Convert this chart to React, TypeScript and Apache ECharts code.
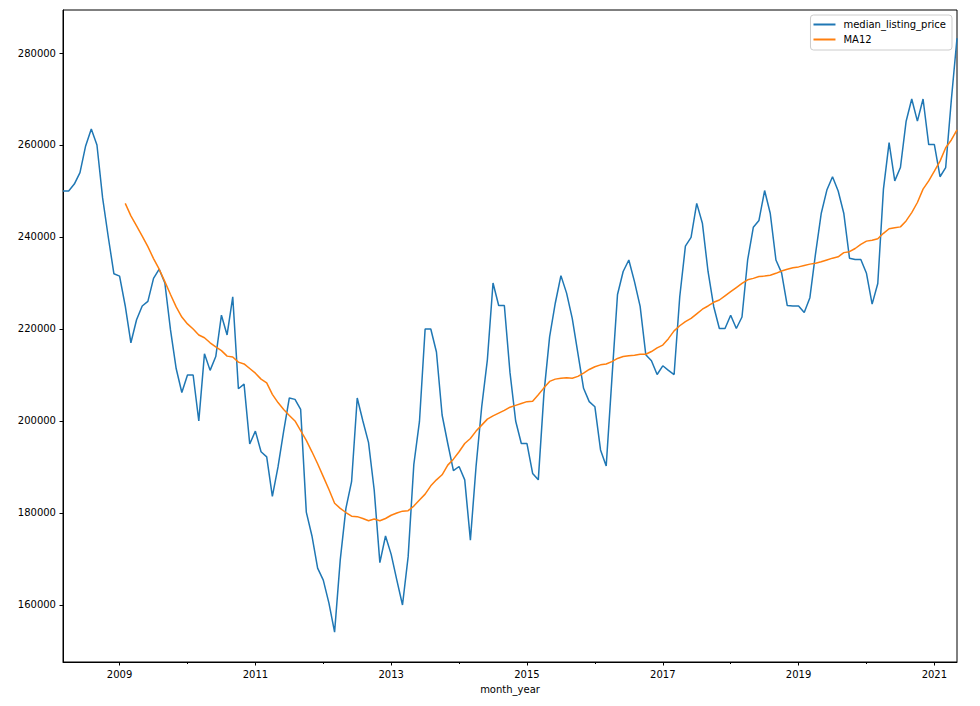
import React, { useEffect, useRef } from "react";
import * as echarts from "echarts";

const START_YEAR = 2008;
const START_MONTH = 3;
const N_MONTHS = 159;

const months: string[] = [];
for (let i = 0; i < N_MONTHS; i++) {
  const m = START_MONTH - 1 + i;
  const y = START_YEAR + Math.floor(m / 12);
  const mm = (m % 12) + 1;
  months.push(`${y}-${mm < 10 ? "0" + mm : mm}`);
}

const medianListingPrice: number[] = [
  250000, 250000, 251500, 254000, 259800, 263500, 260000, 248500, 240000, 232000,
  231500, 225000, 217000, 222000, 225000, 226000, 231000, 233000, 230000, 219800,
  211400, 206200, 210000, 210000, 200000, 214600, 211000, 214000, 223000, 218700,
  227000, 207000, 208000, 195000, 197800, 193300, 192200, 183600, 190000, 197800,
  205000, 204700, 202500, 180200, 175000, 168000, 165400, 160400, 154100, 169800,
  181000, 186800, 205000, 200000, 195300, 185000, 169200, 175000, 171000, 165400,
  160000, 170500, 190500, 199900, 220000, 220000, 215000, 201300, 195100, 189200,
  190100, 187200, 174100, 190100, 203100, 213300, 230000, 225100, 225100, 210500,
  200000, 195100, 195100, 188600, 187200, 206000, 218300, 225600, 231600, 227800,
  222300, 214700, 207100, 204200, 203100, 193700, 190200, 209000, 227500, 232500,
  235000, 230300, 224900, 214400, 213100, 210100, 212000, 211000, 210100, 227000,
  238000, 239900, 247300, 243000, 232500, 224900, 220100, 220100, 223000, 220100,
  222600, 235000, 242100, 243600, 250100, 245100, 235000, 232200, 225100, 225000,
  225000, 223600, 226800, 236400, 245100, 250200, 253100, 250000, 245100, 235400,
  235100, 235100, 232100, 225400, 229900, 250400, 260500, 252200, 255100, 265100,
  270000, 265200, 270000, 260100, 260100, 253100, 255100, 269800, 283200,
];

// MA12 values (first 11 months empty)
const ma12Read: number[] = [
  247300, 244600, 242400, 240200, 237900, 235300, 233000, 230300, 227500, 224800,
  222600, 221100, 220000, 218700, 218100, 217000, 216100, 215300, 214100, 213900,
  212800, 212400, 211400, 210400, 209100, 208300, 205800, 204000, 202500, 201200,
  200000, 197900, 195800, 193300, 190700, 187900, 185100, 182100, 181000, 180100,
  179300, 179200, 178800, 178300, 178700, 178300, 178800, 179500, 180000, 180400,
  180500, 181500, 182800, 184100, 185900, 187200, 188300, 190400, 191700, 193300,
  195100, 196200, 197800, 199100, 200400, 201100, 201700, 202300, 203000, 203400,
  203800, 204200, 204300, 205700, 207200, 208600, 209100, 209300, 209400, 209300,
  209700, 210400, 211200, 211800, 212200, 212400, 212900, 213600, 214000, 214200,
  214300, 214500, 214500, 215100, 215900, 216500, 217900, 219600, 220700, 221600,
  222300, 223300, 224300, 225000, 225800, 226300, 227200, 228100, 229000, 229900,
  230700, 231000, 231400, 231500, 231700, 232100, 232600, 233000, 233300, 233500,
  233800, 234100, 234300, 234600, 235000, 235400, 235700, 236600, 236800, 237500,
  238400, 239100, 239300, 239600, 240800, 241800, 242000, 242200, 243500, 245300,
  247500, 250400, 252200, 254300, 256500, 259400, 261100, 263300,
];
const MA_OFFSET = 11;

const yTicks: number[] = [160000, 180000, 200000, 220000, 240000, 260000, 280000];
const Y_MIN = 147600;
const Y_MAX = 289350;

const FONT = "DejaVu Sans";

export default function App() {
  const ref = useRef<HTMLDivElement>(null);

  useEffect(() => {
    if (!ref.current) return;
    const chart = echarts.init(ref.current, undefined, { renderer: "svg" });

    const ma12: (number | null)[] = months.map((_, i) =>
      i < MA_OFFSET ? null : ma12Read[i - MA_OFFSET]
    );

    const isJan = (v: string) => v.slice(5) === "01";
    const yr = (v: string) => parseInt(v.slice(0, 4), 10);
    const majorFn = (_i: number, v: string) => isJan(v) && yr(v) % 2 === 1;
    const minorFn = (_i: number, v: string) => isJan(v) && yr(v) % 2 === 0;

    chart.setOption({
      animation: false,
      backgroundColor: "#ffffff",
      textStyle: { fontFamily: FONT },
      grid: {
        left: 63,
        right: 23,
        top: 10,
        bottom: 44,
        show: true,
        borderColor: "#000000",
        borderWidth: 1,
        backgroundColor: "transparent",
      },
      legend: {
        show: true,
        orient: "vertical",
        right: 28,
        top: 15,
        align: "left",
        itemWidth: 22,
        itemHeight: 2,
        itemGap: 4,
        icon: "rect",
        padding: [4, 6, 5, 3],
        borderColor: "#cccccc",
        borderWidth: 1,
        borderRadius: 3,
        backgroundColor: "rgba(255,255,255,0.8)",
        textStyle: {
          fontFamily: FONT,
          fontSize: 10,
          color: "#000000",
          padding: [0, 0, 0, 3],
          lineHeight: 11,
        },
        data: ["median_listing_price", "MA12"],
      },
      xAxis: [
        {
          type: "category",
          data: months,
          boundaryGap: false,
          position: "bottom",
          name: "month_year",
          nameLocation: "middle",
          nameGap: 22,
          nameTextStyle: { fontFamily: FONT, fontSize: 10, color: "#000000" },
          axisLine: { show: true, lineStyle: { color: "#000000", width: 1 } },
          axisTick: {
            show: true,
            interval: majorFn,
            length: 3.5,
            lineStyle: { color: "#000000", width: 1 },
          },
          axisLabel: {
            show: true,
            interval: majorFn,
            formatter: (v: string) => v.slice(0, 4),
            margin: 7,
            fontFamily: FONT,
            fontSize: 10,
            color: "#000000",
          },
          splitLine: { show: false },
        },
        {
          type: "category",
          data: months,
          boundaryGap: false,
          position: "bottom",
          axisLine: { show: false },
          axisTick: {
            show: true,
            interval: minorFn,
            length: 2,
            lineStyle: { color: "#000000", width: 1 },
          },
          axisLabel: { show: false },
          splitLine: { show: false },
        },
      ],
      yAxis: {
        type: "value",
        min: Y_MIN,
        max: Y_MAX,
        axisLine: { show: true, lineStyle: { color: "#000000", width: 1 } },
        axisTick: {
          show: true,
          length: 3.5,
          customValues: yTicks,
          lineStyle: { color: "#000000", width: 1 },
        },
        axisLabel: {
          show: true,
          customValues: yTicks,
          formatter: (v: number) => String(Math.round(v)),
          margin: 7,
          fontFamily: FONT,
          fontSize: 10,
          color: "#000000",
        },
        splitLine: { show: false },
      },
      series: [
        {
          name: "median_listing_price",
          type: "line",
          xAxisIndex: 0,
          data: medianListingPrice,
          showSymbol: false,
          symbol: "none",
          lineStyle: { color: "#1f77b4", width: 1.5 },
          itemStyle: { color: "#1f77b4" },
        },
        {
          name: "MA12",
          type: "line",
          xAxisIndex: 0,
          data: ma12,
          showSymbol: false,
          symbol: "none",
          connectNulls: false,
          lineStyle: { color: "#ff7f0e", width: 1.5 },
          itemStyle: { color: "#ff7f0e" },
        },
      ],
    });

    return () => {
      chart.dispose();
    };
  }, []);

  return (
    <div
      ref={ref}
      style={{
        position: "absolute",
        left: 0,
        top: 0,
        width: 980,
        height: 706,
        background: "#ffffff",
      }}
    />
  );
}
